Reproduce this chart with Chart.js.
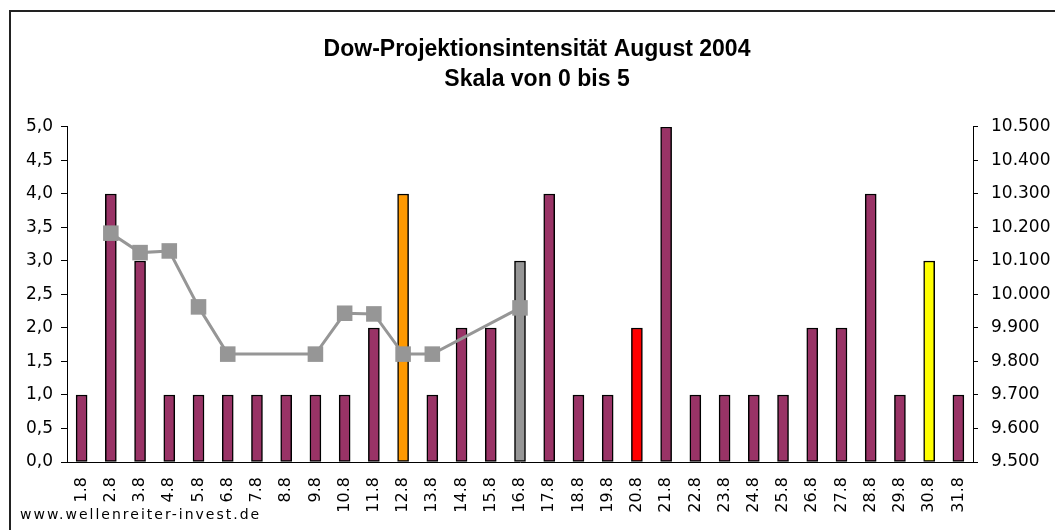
<!DOCTYPE html>
<html>
<head>
<meta charset="utf-8">
<script src="https://cdn.jsdelivr.net/npm/chart.js@4/dist/chart.umd.min.js"></script>
<style>
  body { margin: 0; background: #fff; width: 1055px; height: 530px; overflow: hidden; position: relative; }
  #frame { position: absolute; left: 9px; top: 10px; width: 1100px; height: 600px; border: 2px solid #222; }
  canvas { position: absolute; left: 0; top: 0; }
  #src { position: absolute; left: 20px; top: 506px; font: 14px "DejaVu Sans"; letter-spacing: 2px; color: #000; }
</style>
</head>
<body>
<div id="frame"></div>
<canvas id="chart" width="1055" height="530"></canvas>
<div id="src">www.wellenreiter-invest.de</div>
<script>
const days = ['1.8', '2.8', '3.8', '4.8', '5.8', '6.8', '7.8', '8.8', '9.8', '10.8',
  '11.8', '12.8', '13.8', '14.8', '15.8', '16.8', '17.8', '18.8', '19.8', '20.8',
  '21.8', '22.8', '23.8', '24.8', '25.8', '26.8', '27.8', '28.8', '29.8', '30.8', '31.8'];

// projection intensity, scale 0..5
const intensity = [1, 4, 3, 1, 1, 1, 1, 1, 1, 1,
  2, 4, 1, 2, 2, 3, 4, 1, 1, 2,
  5, 1, 1, 1, 1, 2, 2, 4, 1, 3, 1];

// Dow close (right axis), weekends and later days empty
const dowClose = [null, 10183, 10125, 10130, 9963, 9822, null, null, 9822, 9944,
  9942, 9822, 9822, null, null, 9960, null, null, null, null,
  null, null, null, null, null, null, null, null, null, null, null];

const purple = '#993366';
const highlight = { '12.8': '#FF9900', '16.8': '#969696', '20.8': '#FF0000', '30.8': '#FFFF00' };

const tickFont = { family: 'DejaVu Sans', size: 16 };
const yFont = { family: 'DejaVu Sans', size: 17 };

new Chart(document.getElementById('chart'), {
  type: 'bar',
  data: {
    labels: days,
    datasets: [
      {
        type: 'line',
        data: dowClose,
        yAxisID: 'y2',
        order: 0,
        borderColor: '#969696',
        borderWidth: 3,
        pointStyle: 'rect',
        pointRadius: 11,
        pointBackgroundColor: '#969696',
        pointBorderWidth: 0,
        spanGaps: true
      },
      {
        type: 'bar',
        data: intensity,
        yAxisID: 'y',
        order: 1,
        backgroundColor: days.map(d => highlight[d] || purple),
        borderColor: '#000',
        borderWidth: 1.5,
        borderSkipped: false,
        barThickness: 11
      }
    ]
  },
  options: {
    responsive: false,
    animation: false,
    devicePixelRatio: 1,
    layout: { padding: { left: 19, right: 0, top: 0, bottom: 0 } },
    plugins: {
      legend: { display: false },
      tooltip: { enabled: false },
      title: {
        display: true,
        text: ['Dow-Projektionsintensität August 2004', 'Skala von 0 bis 5'],
        color: '#000',
        font: { family: 'Liberation Sans', size: 23, weight: 'bold', lineHeight: 1.304 },
        padding: { top: 35, bottom: 32 }
      }
    },
    scales: {
      x: {
        offset: true,
        grid: { display: false, drawTicks: false },
        border: { display: true, color: '#000' },
        ticks: { autoSkip: false, maxRotation: 90, minRotation: 90, padding: 15, color: '#000', font: tickFont },
        afterFit: s => { s.height = 68; }
      },
      y: {
        position: 'left',
        min: 0,
        max: 5,
        grid: { display: true, drawOnChartArea: false, drawTicks: true, tickLength: 6, color: '#000' },
        border: { display: true, color: '#000' },
        ticks: { stepSize: 0.5, padding: 8, color: '#000', font: yFont,
          callback: v => v.toFixed(1).replace('.', ',') },
        afterFit: s => { s.width = 48; }
      },
      y2: {
        position: 'right',
        min: 9500,
        max: 10500,
        grid: { display: true, drawOnChartArea: false, drawTicks: true, tickLength: 5, color: '#000' },
        border: { display: true, color: '#000' },
        ticks: { stepSize: 100, padding: 13, color: '#000', font: yFont,
          callback: v => String(Math.round(v)).replace(/\B(?=(\d{3})+(?!\d))/g, '.') },
        afterFit: s => { s.width = 82; }
      }
    }
  }
});
</script>
</body>
</html>
